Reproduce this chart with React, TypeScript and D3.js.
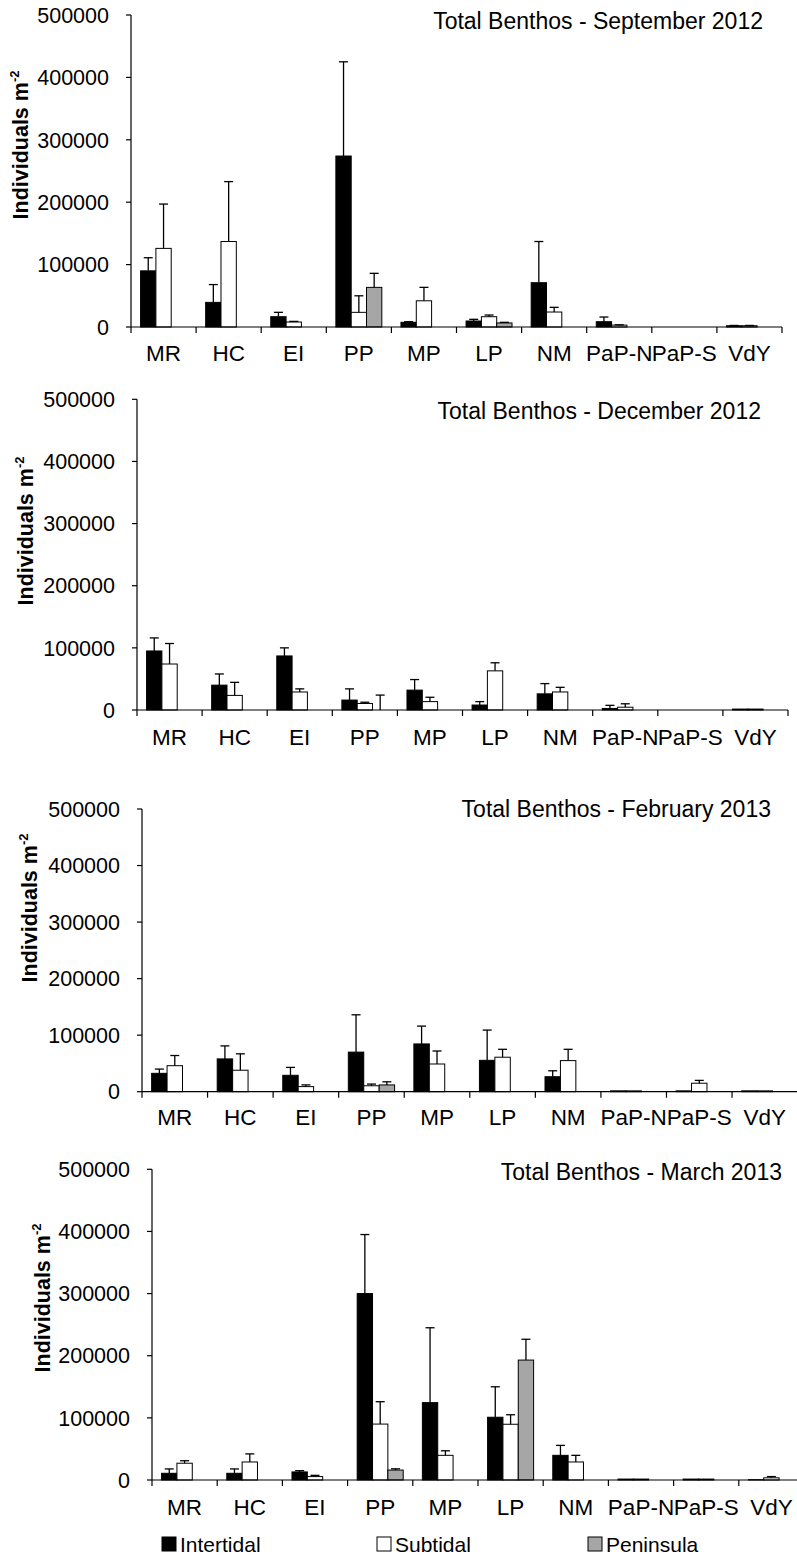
import React from "react";
import * as d3 from "d3";

// ---- data ----
const categories = ["MR", "HC", "EI", "PP", "MP", "LP", "NM", "PaP-N", "PaP-S", "VdY"];
const seriesNames = ["Intertidal", "Subtidal", "Peninsula"];
const seriesColors = ["#000000", "#ffffff", "#a6a6a6"];
const yTicks = [0, 100000, 200000, 300000, 400000, 500000];
const titles = [
  "Total Benthos - September 2012",
  "Total Benthos - December 2012",
  "Total Benthos - February 2013",
  "Total Benthos - March 2013",
];

// September 2012
const sepInter = [90000, 39500, 16500, 274000, 7500, 9600, 71000, 8500, 0, 2000];
const sepInterSE = [21000, 28500, 7000, 151000, 1000, 2700, 66000, 7500, 0, 500];
const sepSub = [126000, 137000, 8000, 23500, 42000, 16500, 24000, 3000, 0, 2000];
const sepSubSE = [71000, 96000, 1000, 26500, 21500, 2700, 7500, 500, 0, 500];
const sepPen = [0, 0, 0, 63500, 0, 6500, 0, 0, 0, 0];
const sepPenSE = [0, 0, 0, 22500, 0, 1000, 0, 0, 0, 0];

// December 2012
const decInter = [95000, 40000, 87000, 16000, 32000, 8000, 26000, 2500, 0, 1500];
const decInterSE = [21000, 18000, 13000, 18000, 17000, 5500, 16500, 5000, 0, 0];
const decSub = [74000, 23500, 29000, 10500, 13500, 63000, 29000, 4500, 0, 1500];
const decSubSE = [33000, 21000, 5000, 2000, 7000, 13000, 7500, 5500, 0, 0];
const decPen = [0, 0, 0, 0, 0, 0, 0, 0, 0, 0];
const decPenSE = [0, 0, 0, 24000, 0, 0, 0, 0, 0, 0];

// February 2013
const febInter = [32500, 58000, 29000, 70000, 84500, 55500, 26500, 1500, 1500, 1500];
const febInterSE = [7500, 23000, 14000, 66000, 31500, 53500, 10500, 0, 0, 0];
const febSub = [46000, 38000, 9000, 10500, 49000, 61000, 55000, 1500, 15000, 1500];
const febSubSE = [18000, 29000, 3000, 3000, 23000, 14000, 20000, 0, 5000, 0];
const febPen = [0, 0, 0, 12000, 0, 0, 0, 0, 0, 0];
const febPenSE = [0, 0, 0, 5500, 0, 0, 0, 0, 0, 0];

// March 2013
const marInter = [10800, 10800, 13000, 300000, 124500, 101000, 39700, 1500, 1500, 500];
const marInterSE = [7000, 7000, 2000, 95000, 120500, 49000, 16000, 0, 0, 0];
const marSub = [27000, 29000, 5500, 90000, 39700, 89700, 29000, 1500, 1500, 3500];
const marSubSE = [4000, 13000, 2000, 36000, 7300, 15300, 10700, 0, 0, 2000];
const marPen = [0, 0, 0, 16000, 0, 193000, 0, 0, 0, 0];
const marPenSE = [0, 0, 0, 2000, 0, 33500, 0, 0, 0, 0];

const panelsData = [
  { means: [sepInter, sepSub, sepPen], ses: [sepInterSE, sepSubSE, sepPenSE] },
  { means: [decInter, decSub, decPen], ses: [decInterSE, decSubSE, decPenSE] },
  { means: [febInter, febSub, febPen], ses: [febInterSE, febSubSE, febPenSE] },
  { means: [marInter, marSub, marPen], ses: [marInterSE, marSubSE, marPenSE] },
];

// ---- layout ----
const W = 797;
const H = 1555;
const FONT = "'Liberation Sans', Arial, Helvetica, sans-serif";
const layouts = [
  { axisX: 131, yTop: 15, yBase: 327, xEnd: 782, titleRight: 763, titleY: 29, ylabX: 20, ylabY: 145, catY: 361 },
  { axisX: 137, yTop: 399.3, yBase: 710, xEnd: 788, titleRight: 761, titleY: 419, ylabX: 25, ylabY: 531, catY: 745 },
  { axisX: 142, yTop: 809, yBase: 1091.7, xEnd: 797.6, titleRight: 771, titleY: 817, ylabX: 29.5, ylabY: 908, catY: 1125 },
  { axisX: 152, yTop: 1169.3, yBase: 1480, xEnd: 804, titleRight: 782, titleY: 1180, ylabX: 42.5, ylabY: 1298, catY: 1515 },
];
const legendItems = [
  { x: 162, textX: 180 },
  { x: 377, textX: 395 },
  { x: 588, textX: 606 },
];
const legendY = 1537;
const legendBox = 14;
const legendTextY = 1551.5;

function Panel({ idx }: { idx: number }) {
  const L = layouts[idx];
  const data = panelsData[idx];
  const y = d3.scaleLinear().domain([0, 500000]).range([L.yBase, L.yTop]);
  const x = d3.scaleBand<string>().domain(categories).range([L.axisX, L.xEnd]).paddingInner(0).paddingOuter(0);
  const xs = d3.scaleBand<string>().domain(seriesNames).range([0, x.bandwidth()]).paddingInner(0).paddingOuter(0.625);
  const bw = xs.bandwidth();
  const capW = 9;

  return (
    <g>
      {/* bars */}
      {seriesNames.map((s, si) =>
        categories.map((c, ci) => {
          const v = data.means[si][ci];
          if (!v || v <= 0) return null;
          const x0 = (x(c) as number) + (xs(s) as number);
          const yTop = y(v);
          return (
            <rect
              key={`b-${si}-${ci}`}
              x={x0}
              y={yTop}
              width={bw}
              height={Math.max(L.yBase - yTop, 0)}
              fill={seriesColors[si]}
              stroke="#000"
              strokeWidth={1}
            />
          );
        })
      )}
      {/* error bars */}
      {seriesNames.map((s, si) =>
        categories.map((c, ci) => {
          const v = data.means[si][ci] || 0;
          const se = data.ses[si][ci];
          if (!se || se <= 0) return null;
          const cx = (x(c) as number) + (xs(s) as number) + bw / 2;
          return (
            <g key={`e-${si}-${ci}`} stroke="#000" strokeWidth={1.3}>
              <line x1={cx} x2={cx} y1={y(v)} y2={y(v + se)} />
              <line x1={cx - capW / 2} x2={cx + capW / 2} y1={y(v + se)} y2={y(v + se)} />
            </g>
          );
        })
      )}
      {/* y axis */}
      <line x1={L.axisX} x2={L.axisX} y1={L.yTop} y2={L.yBase} stroke="#000" strokeWidth={1.2} />
      {yTicks.map((t) => (
        <g key={`yt-${t}`}>
          <line x1={L.axisX - 5} x2={L.axisX} y1={y(t)} y2={y(t)} stroke="#000" strokeWidth={1.2} />
          <text
            x={L.axisX - 22}
            y={y(t)}
            dy="0.36em"
            textAnchor="end"
            fontSize={21.5}
            fontFamily={FONT}
            fill="#000"
          >
            {t}
          </text>
        </g>
      ))}
      {/* x axis */}
      <line x1={L.axisX} x2={L.xEnd} y1={L.yBase} y2={L.yBase} stroke="#000" strokeWidth={1.2} />
      {categories.map((c) => (
        <line
          key={`xt-${c}`}
          x1={x(c) as number}
          x2={x(c) as number}
          y1={L.yBase}
          y2={L.yBase + 6}
          stroke="#000"
          strokeWidth={1.2}
        />
      ))}
      <line x1={L.xEnd} x2={L.xEnd} y1={L.yBase} y2={L.yBase + 6} stroke="#000" strokeWidth={1.2} />
      {categories.map((c) => (
        <text
          key={`xl-${c}`}
          x={(x(c) as number) + x.bandwidth() / 2}
          y={L.catY}
          textAnchor="middle"
          fontSize={22.5}
          fontFamily={FONT}
          fill="#000"
        >
          {c}
        </text>
      ))}
      {/* title */}
      <text x={L.titleRight} y={L.titleY} textAnchor="end" fontSize={23} fontFamily={FONT} fill="#000">
        {titles[idx]}
      </text>
      {/* y label */}
      <text
        transform={`translate(${L.ylabX},${L.ylabY}) rotate(-90)`}
        textAnchor="middle"
        dy="0.36em"
        fontSize={21.5}
        fontWeight="bold"
        fontFamily={FONT}
        fill="#000"
      >
        Individuals m<tspan fontSize={13} dy={-9}>-2</tspan>
      </text>
    </g>
  );
}

export default function App() {
  return (
    <svg
      width={W}
      height={H}
      viewBox={`0 0 ${W} ${H}`}
      style={{ position: "absolute", left: 0, top: 0, background: "#fff" }}
    >
      <rect x={0} y={0} width={W} height={H} fill="#fff" />
      {layouts.map((_, i) => (
        <Panel key={i} idx={i} />
      ))}
      {seriesNames.map((s, i) => (
        <g key={`lg-${s}`}>
          <rect
            x={legendItems[i].x}
            y={legendY}
            width={legendBox}
            height={legendBox}
            fill={seriesColors[i]}
            stroke="#000"
            strokeWidth={1}
          />
          <text x={legendItems[i].textX} y={legendTextY} fontSize={21} fontFamily={FONT} fill="#000">
            {s}
          </text>
        </g>
      ))}
    </svg>
  );
}
